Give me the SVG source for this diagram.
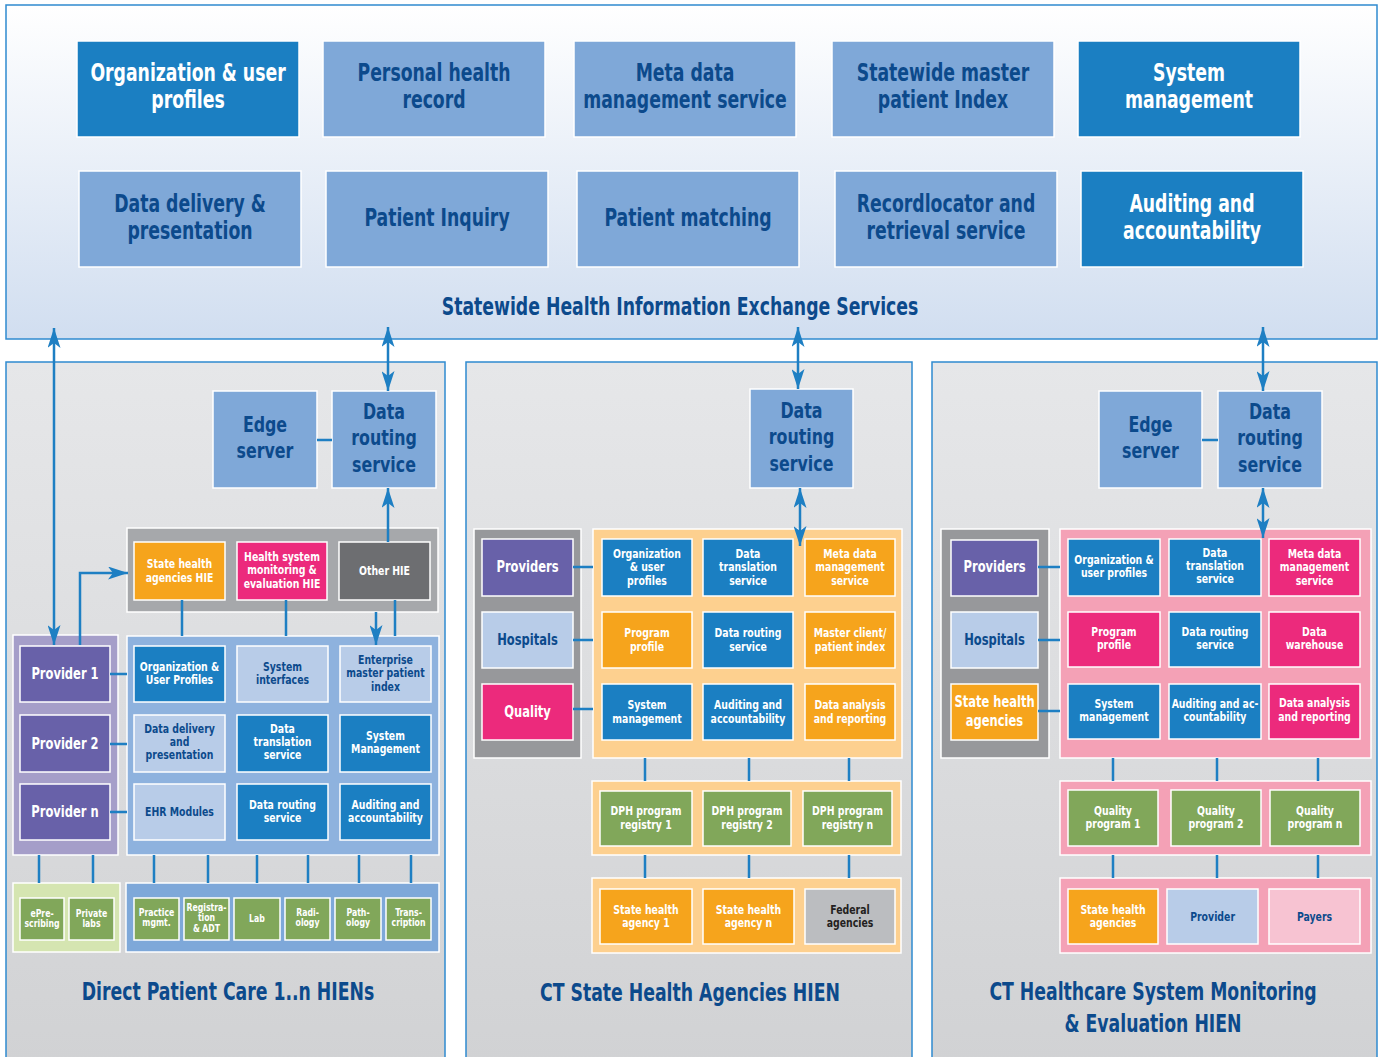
<svg xmlns="http://www.w3.org/2000/svg" width="1383" height="1057" viewBox="0 0 1383 1057">
<defs>
<linearGradient id="gTop" x1="0" y1="0" x2="0" y2="1"><stop offset="0" stop-color="#ffffff"/><stop offset="1" stop-color="#d1def0"/></linearGradient>
<linearGradient id="gPan" x1="0" y1="0" x2="0" y2="1"><stop offset="0" stop-color="#e6e7e9"/><stop offset="1" stop-color="#d1d2d4"/></linearGradient>
<marker id="ah" viewBox="0 0 20 13" refX="20" refY="6.5" markerWidth="20" markerHeight="13" markerUnits="userSpaceOnUse" orient="auto-start-reverse"><path d="M0,0 L20,6.5 L0,13 L5,6.5 z" fill="#1e7fc3"/></marker>
</defs>
<style>
text{font-family:"DejaVu Sans Condensed","Liberation Sans",sans-serif;font-weight:bold;text-anchor:middle;transform-box:fill-box;transform-origin:50% 50%;transform:scaleX(0.8)}
.w{fill:#fff}.n{fill:#0c4a8c}.k{fill:#231f20}
.f24{font-size:24px}.f22{font-size:22px}.f16{font-size:16px}.f12{font-size:13px}.f10{font-size:10.8px}
rect{stroke:#fff;stroke-width:1.5}
.panel{stroke:#2f8bd0;stroke-width:1.5}
.db{fill:#1b7fc2}.lb{fill:#7fa8d8}.pb{fill:#b8cce8}.or{fill:#f6a41c}.pk{fill:#ec2a7c}.pu{fill:#6861a9}
.gr{fill:#81a75a}.dg{fill:#6d6e71}.fg{fill:#bbbdc0}.pp{fill:#f7c3d2}
.cpu{fill:#a59ec9}.cg1{fill:#a6a8ab}.cg2{fill:#97989b}.cbl{fill:#8eb2de}.cbl2{fill:#7ea8d9}.cgr{fill:#d5e5b1}.cor{fill:#fdd08f}.cpk{fill:#f4a1b6}
.c{stroke:#1e7fc3;stroke-width:2.5;fill:none}
</style>

<!-- Top panel -->
<g id="statewide-panel">
<rect x="6" y="5" width="1371" height="334" fill="url(#gTop)" class="panel"/>
<text class="n f24" x="680" y="315">Statewide Health Information Exchange Services</text>
</g>
<g id="top-org"><rect class="db" x="77" y="41" width="222" height="96"/><text class="w f24" x="188" y="81.5">Organization &amp; user</text><text class="w f24" x="188" y="108.5">profiles</text></g>
<g id="top-phr"><rect class="lb" x="323" y="41" width="222" height="96"/><text class="n f24" x="434" y="81.5">Personal health</text><text class="n f24" x="434" y="108.5">record</text></g>
<g id="top-meta"><rect class="lb" x="574" y="41" width="222" height="96"/><text class="n f24" x="685" y="81.5">Meta data</text><text class="n f24" x="685" y="108.5">management service</text></g>
<g id="top-smpi"><rect class="lb" x="832" y="41" width="222" height="96"/><text class="n f24" x="943" y="81.5">Statewide master</text><text class="n f24" x="943" y="108.5">patient Index</text></g>
<g id="top-sysmgmt"><rect class="db" x="1078" y="41" width="222" height="96"/><text class="w f24" x="1189" y="81.5">System</text><text class="w f24" x="1189" y="108.5">management</text></g>
<g id="top-ddp"><rect class="lb" x="79" y="171" width="222" height="96"/><text class="n f24" x="190" y="212">Data delivery &amp;</text><text class="n f24" x="190" y="239">presentation</text></g>
<g id="top-pi"><rect class="lb" x="326" y="171" width="222" height="96"/><text class="n f24" x="437" y="226">Patient Inquiry</text></g>
<g id="top-pm"><rect class="lb" x="577" y="171" width="222" height="96"/><text class="n f24" x="688" y="226">Patient matching</text></g>
<g id="top-rls"><rect class="lb" x="835" y="171" width="222" height="96"/><text class="n f24" x="946" y="212">Recordlocator and</text><text class="n f24" x="946" y="239">retrieval service</text></g>
<g id="top-aud"><rect class="db" x="1081" y="171" width="222" height="96"/><text class="w f24" x="1192" y="212">Auditing and</text><text class="w f24" x="1192" y="239">accountability</text></g>

<!-- Panel 1 -->
<g id="panel-direct">
<rect x="6" y="362" width="439" height="700" fill="url(#gPan)" class="panel"/>
<text class="n f24" x="228" y="1000">Direct Patient Care 1..n HIENs</text>
</g>
<g id="p1-containers">
<rect class="cg1" x="127" y="528" width="311" height="84"/>
<rect class="cpu" x="13" y="635" width="105" height="220"/>
<rect class="cbl" x="127" y="636" width="312" height="219"/>
<rect class="cgr" x="13" y="883" width="107" height="69"/>
<rect class="cbl2" x="126" y="883" width="313" height="69"/>
</g>
<g id="p1-edge"><rect class="lb" x="213" y="391" width="104" height="97"/><text class="n f22" x="265" y="432">Edge</text><text class="n f22" x="265" y="458">server</text></g>
<g id="p1-drs"><rect class="lb" x="332" y="391" width="104" height="97"/><text class="n f22" x="384" y="419">Data</text><text class="n f22" x="384" y="445.5">routing</text><text class="n f22" x="384" y="472">service</text></g>
<g id="p1-sha"><rect class="or" x="134" y="542" width="91" height="58"/><text class="w f12" x="179.5" y="568">State health</text><text class="w f12" x="179.5" y="582">agencies HIE</text></g>
<g id="p1-hsm"><rect class="pk" x="237" y="542" width="90" height="58"/><text class="w f12" x="282" y="561">Health system</text><text class="w f12" x="282" y="574.5">monitoring &amp;</text><text class="w f12" x="282" y="588">evaluation HIE</text></g>
<g id="p1-other"><rect class="dg" x="339" y="542" width="91" height="58"/><text class="w f12" x="384.5" y="575">Other HIE</text></g>
<g id="p1-prov1"><rect class="pu" x="20" y="646" width="90" height="56"/><text class="w f16" x="65" y="679">Provider 1</text></g>
<g id="p1-prov2"><rect class="pu" x="20" y="715" width="90" height="57"/><text class="w f16" x="65" y="749">Provider 2</text></g>
<g id="p1-provn"><rect class="pu" x="20" y="784" width="90" height="56"/><text class="w f16" x="65" y="817">Provider n</text></g>
<g id="p1-org"><rect class="db" x="134" y="646" width="91" height="56"/><text class="w f12" x="179.5" y="671">Organization &amp;</text><text class="w f12" x="179.5" y="684">User Profiles</text></g>
<g id="p1-sysint"><rect class="pb" x="237" y="646" width="91" height="56"/><text class="n f12" x="282.5" y="671">System</text><text class="n f12" x="282.5" y="684">interfaces</text></g>
<g id="p1-empi"><rect class="pb" x="340" y="646" width="91" height="56"/><text class="n f12" x="385.5" y="664">Enterprise</text><text class="n f12" x="385.5" y="677.5">master patient</text><text class="n f12" x="385.5" y="691">index</text></g>
<g id="p1-ddp"><rect class="pb" x="134" y="715" width="91" height="57"/><text class="n f12" x="179.5" y="733">Data delivery</text><text class="n f12" x="179.5" y="746.5">and</text><text class="n f12" x="179.5" y="759.5">presentation</text></g>
<g id="p1-dts"><rect class="db" x="237" y="715" width="91" height="57"/><text class="w f12" x="282.5" y="733">Data</text><text class="w f12" x="282.5" y="746.5">translation</text><text class="w f12" x="282.5" y="759.5">service</text></g>
<g id="p1-sysm"><rect class="db" x="340" y="715" width="91" height="57"/><text class="w f12" x="385.5" y="740">System</text><text class="w f12" x="385.5" y="753.5">Management</text></g>
<g id="p1-ehr"><rect class="pb" x="134" y="784" width="91" height="56"/><text class="n f12" x="179.5" y="816">EHR Modules</text></g>
<g id="p1-drs2"><rect class="db" x="237" y="784" width="91" height="56"/><text class="w f12" x="282.5" y="809">Data routing</text><text class="w f12" x="282.5" y="822.5">service</text></g>
<g id="p1-aud"><rect class="db" x="340" y="784" width="91" height="56"/><text class="w f12" x="385.5" y="809">Auditing and</text><text class="w f12" x="385.5" y="822.5">accountability</text></g>
<g id="p1-epres"><rect class="gr" x="20" y="898" width="44" height="42"/><text class="w f10" x="42" y="917">ePre-</text><text class="w f10" x="42" y="927">scribing</text></g>
<g id="p1-plabs"><rect class="gr" x="69" y="898" width="45" height="42"/><text class="w f10" x="91.5" y="917">Private</text><text class="w f10" x="91.5" y="927">labs</text></g>
<g id="p1-pm"><rect class="gr" x="134" y="898" width="45" height="42"/><text class="w f10" x="156.5" y="916">Practice</text><text class="w f10" x="156.5" y="926.5">mgmt.</text></g>
<g id="p1-reg"><rect class="gr" x="184" y="898" width="45" height="42"/><text class="w f10" x="206.5" y="911">Registra-</text><text class="w f10" x="206.5" y="921.5">tion</text><text class="w f10" x="206.5" y="932">&amp; ADT</text></g>
<g id="p1-lab"><rect class="gr" x="234" y="898" width="46" height="42"/><text class="w f10" x="257" y="922">Lab</text></g>
<g id="p1-rad"><rect class="gr" x="285" y="898" width="45" height="42"/><text class="w f10" x="307.5" y="916">Radi-</text><text class="w f10" x="307.5" y="926.5">ology</text></g>
<g id="p1-path"><rect class="gr" x="335" y="898" width="46" height="42"/><text class="w f10" x="358" y="916">Path-</text><text class="w f10" x="358" y="926.5">ology</text></g>
<g id="p1-trans"><rect class="gr" x="386" y="898" width="45" height="42"/><text class="w f10" x="408.5" y="916">Trans-</text><text class="w f10" x="408.5" y="926.5">cription</text></g>

<!-- Panel 2 -->
<g id="panel-state">
<rect x="466" y="362" width="446" height="700" fill="url(#gPan)" class="panel"/>
<text class="n f24" x="690" y="1001">CT State Health Agencies HIEN</text>
</g>
<g id="p2-containers">
<rect class="cg2" x="474" y="529" width="107" height="229"/>
<rect class="cor" x="593" y="529" width="309" height="229"/>
<rect class="cor" x="592" y="781" width="309" height="74"/>
<rect class="cor" x="592" y="878" width="309" height="75"/>
</g>
<g id="p2-drs"><rect class="lb" x="750" y="389" width="103" height="99"/><text class="n f22" x="801.5" y="418">Data</text><text class="n f22" x="801.5" y="444.5">routing</text><text class="n f22" x="801.5" y="471">service</text></g>
<g id="p2-prov"><rect class="pu" x="482" y="539" width="91" height="57"/><text class="w f16" x="527.5" y="572">Providers</text></g>
<g id="p2-hosp"><rect class="pb" x="482" y="612" width="91" height="56"/><text class="n f16" x="527.5" y="645">Hospitals</text></g>
<g id="p2-qual"><rect class="pk" x="482" y="684" width="91" height="56"/><text class="w f16" x="527.5" y="717">Quality</text></g>
<g id="p2-org"><rect class="db" x="602" y="539" width="90" height="57"/><text class="w f12" x="647" y="558">Organization</text><text class="w f12" x="647" y="571.5">&amp; user</text><text class="w f12" x="647" y="585">profiles</text></g>
<g id="p2-dts"><rect class="db" x="703" y="539" width="90" height="57"/><text class="w f12" x="748" y="558">Data</text><text class="w f12" x="748" y="571.5">translation</text><text class="w f12" x="748" y="585">service</text></g>
<g id="p2-meta"><rect class="or" x="805" y="539" width="90" height="57"/><text class="w f12" x="850" y="558">Meta data</text><text class="w f12" x="850" y="571.5">management</text><text class="w f12" x="850" y="585">service</text></g>
<g id="p2-prog"><rect class="or" x="602" y="612" width="90" height="56"/><text class="w f12" x="647" y="637">Program</text><text class="w f12" x="647" y="651">profile</text></g>
<g id="p2-drs2"><rect class="db" x="703" y="612" width="90" height="56"/><text class="w f12" x="748" y="637">Data routing</text><text class="w f12" x="748" y="651">service</text></g>
<g id="p2-mcpi"><rect class="or" x="805" y="612" width="90" height="56"/><text class="w f12" x="850" y="637">Master client/</text><text class="w f12" x="850" y="651">patient index</text></g>
<g id="p2-sysm"><rect class="db" x="602" y="684" width="90" height="56"/><text class="w f12" x="647" y="709">System</text><text class="w f12" x="647" y="723">management</text></g>
<g id="p2-aud"><rect class="db" x="703" y="684" width="90" height="56"/><text class="w f12" x="748" y="709">Auditing and</text><text class="w f12" x="748" y="723">accountability</text></g>
<g id="p2-dar"><rect class="or" x="805" y="684" width="90" height="56"/><text class="w f12" x="850" y="709">Data analysis</text><text class="w f12" x="850" y="723">and reporting</text></g>
<g id="p2-dph1"><rect class="gr" x="600" y="791" width="92" height="55"/><text class="w f12" x="646" y="815">DPH program</text><text class="w f12" x="646" y="829">registry 1</text></g>
<g id="p2-dph2"><rect class="gr" x="703" y="791" width="88" height="55"/><text class="w f12" x="747" y="815">DPH program</text><text class="w f12" x="747" y="829">registry 2</text></g>
<g id="p2-dphn"><rect class="gr" x="803" y="791" width="89" height="55"/><text class="w f12" x="847.5" y="815">DPH program</text><text class="w f12" x="847.5" y="829">registry n</text></g>
<g id="p2-sha1"><rect class="or" x="600" y="889" width="92" height="55"/><text class="w f12" x="646" y="914">State health</text><text class="w f12" x="646" y="927.5">agency 1</text></g>
<g id="p2-shan"><rect class="or" x="703" y="889" width="91" height="55"/><text class="w f12" x="748.5" y="914">State health</text><text class="w f12" x="748.5" y="927.5">agency n</text></g>
<g id="p2-fed"><rect class="fg" x="805" y="889" width="90" height="55"/><text class="k f12" x="850" y="914">Federal</text><text class="k f12" x="850" y="927.5">agencies</text></g>

<!-- Panel 3 -->
<g id="panel-monitoring">
<rect x="932" y="362" width="445" height="700" fill="url(#gPan)" class="panel"/>
<text class="n f24" x="1153" y="1000">CT Healthcare System Monitoring</text>
<text class="n f24" x="1153" y="1032">&amp; Evaluation HIEN</text>
</g>
<g id="p3-containers">
<rect class="cg2" x="941" y="529" width="108" height="229"/>
<rect class="cpk" x="1060" y="529" width="311" height="229"/>
<rect class="cpk" x="1060" y="781" width="311" height="74"/>
<rect class="cpk" x="1060" y="878" width="311" height="75"/>
</g>
<g id="p3-edge"><rect class="lb" x="1099" y="391" width="103" height="97"/><text class="n f22" x="1150.5" y="432">Edge</text><text class="n f22" x="1150.5" y="458">server</text></g>
<g id="p3-drs"><rect class="lb" x="1218" y="391" width="104" height="97"/><text class="n f22" x="1270" y="419">Data</text><text class="n f22" x="1270" y="445.5">routing</text><text class="n f22" x="1270" y="472">service</text></g>
<g id="p3-prov"><rect class="pu" x="951" y="540" width="87" height="56"/><text class="w f16" x="994.5" y="572">Providers</text></g>
<g id="p3-hosp"><rect class="pb" x="951" y="612" width="87" height="56"/><text class="n f16" x="994.5" y="645">Hospitals</text></g>
<g id="p3-sha"><rect class="or" x="951" y="684" width="87" height="56"/><text class="w f16" x="994.5" y="707">State health</text><text class="w f16" x="994.5" y="726">agencies</text></g>
<g id="p3-org"><rect class="db" x="1068" y="539" width="92" height="57"/><text class="w f12" x="1114" y="564">Organization &amp;</text><text class="w f12" x="1114" y="577.5">user profiles</text></g>
<g id="p3-dts"><rect class="db" x="1169" y="539" width="92" height="57"/><text class="w f12" x="1215" y="557">Data</text><text class="w f12" x="1215" y="570.5">translation</text><text class="w f12" x="1215" y="583.5">service</text></g>
<g id="p3-meta"><rect class="pk" x="1269" y="539" width="91" height="57"/><text class="w f12" x="1314.5" y="558">Meta data</text><text class="w f12" x="1314.5" y="571.5">management</text><text class="w f12" x="1314.5" y="585">service</text></g>
<g id="p3-prog"><rect class="pk" x="1068" y="612" width="92" height="55"/><text class="w f12" x="1114" y="636">Program</text><text class="w f12" x="1114" y="649.5">profile</text></g>
<g id="p3-drs2"><rect class="db" x="1169" y="612" width="92" height="55"/><text class="w f12" x="1215" y="636">Data routing</text><text class="w f12" x="1215" y="649.5">service</text></g>
<g id="p3-dw"><rect class="pk" x="1269" y="612" width="91" height="55"/><text class="w f12" x="1314.5" y="636">Data</text><text class="w f12" x="1314.5" y="649.5">warehouse</text></g>
<g id="p3-sysm"><rect class="db" x="1068" y="684" width="92" height="55"/><text class="w f12" x="1114" y="708">System</text><text class="w f12" x="1114" y="721.5">management</text></g>
<g id="p3-aud"><rect class="db" x="1169" y="684" width="92" height="55"/><text class="w f12" x="1215" y="708">Auditing and ac-</text><text class="w f12" x="1215" y="721.5">countability</text></g>
<g id="p3-dar"><rect class="pk" x="1269" y="684" width="91" height="55"/><text class="w f12" x="1314.5" y="707">Data analysis</text><text class="w f12" x="1314.5" y="721">and reporting</text></g>
<g id="p3-qp1"><rect class="gr" x="1068" y="790" width="90" height="56"/><text class="w f12" x="1113" y="815">Quality</text><text class="w f12" x="1113" y="828.5">program 1</text></g>
<g id="p3-qp2"><rect class="gr" x="1171" y="790" width="90" height="56"/><text class="w f12" x="1216" y="815">Quality</text><text class="w f12" x="1216" y="828.5">program 2</text></g>
<g id="p3-qpn"><rect class="gr" x="1270" y="790" width="90" height="56"/><text class="w f12" x="1315" y="815">Quality</text><text class="w f12" x="1315" y="828.5">program n</text></g>
<g id="p3-sha2"><rect class="or" x="1068" y="889" width="90" height="55"/><text class="w f12" x="1113" y="914">State health</text><text class="w f12" x="1113" y="927.5">agencies</text></g>
<g id="p3-provider"><rect class="pb" x="1167" y="889" width="91" height="55"/><text class="n f12" x="1212.5" y="921">Provider</text></g>
<g id="p3-payers"><rect class="pp" x="1269" y="889" width="91" height="55"/><text class="n f12" x="1314.5" y="921">Payers</text></g>

<!-- Connectors -->
<g id="connectors">
<path class="c" d="M54,328 V645" marker-start="url(#ah)" marker-end="url(#ah)"/>
<path class="c" d="M80,645 V573 H128" marker-end="url(#ah)"/>
<path class="c" d="M388,327 V391" marker-start="url(#ah)" marker-end="url(#ah)"/>
<path class="c" d="M388,542 V488" marker-end="url(#ah)"/>
<path class="c" d="M376,612 V645" marker-end="url(#ah)"/>
<path class="c" d="M182,600 V636 M286,600 V636 M395,600 V636"/>
<path class="c" d="M317,440 H332"/>
<path class="c" d="M110,674 H127 M110,744 H127 M110,812 H127"/>
<path class="c" d="M39,855 V883 M93,855 V883 M154,855 V883 M208,855 V883 M257,855 V883 M308,855 V883 M359,855 V883 M411,855 V883"/>
<path class="c" d="M798,327 V389" marker-start="url(#ah)" marker-end="url(#ah)"/>
<path class="c" d="M800,488 V546" marker-start="url(#ah)" marker-end="url(#ah)"/>
<path class="c" d="M573,567 H593 M573,640 H593 M573,709 H593"/>
<path class="c" d="M645,758 V781 M749,758 V781 M849,758 V781 M645,855 V878 M749,855 V878 M849,855 V878"/>
<path class="c" d="M1263,327 V391" marker-start="url(#ah)" marker-end="url(#ah)"/>
<path class="c" d="M1263,488 V538" marker-start="url(#ah)" marker-end="url(#ah)"/>
<path class="c" d="M1202,440 H1218"/>
<path class="c" d="M1038,567 H1060 M1038,640 H1060 M1038,711 H1060"/>
<path class="c" d="M1113,758 V781 M1217,758 V781 M1318,758 V781 M1113,855 V878 M1217,855 V878 M1318,855 V878"/>
</g>
</svg>
